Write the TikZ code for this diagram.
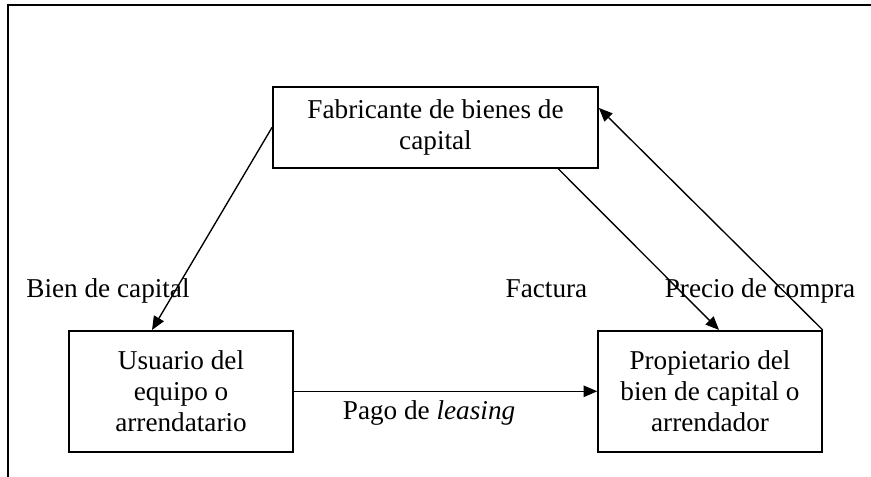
\documentclass[tikz,border=0pt]{standalone}
\usepackage{fontspec}
\setmainfont{Liberation Serif}
\usetikzlibrary{calc,arrows.meta}
\tikzset{
  box/.style={draw, line width=0.7pt, align=center, inner sep=0pt, font=\fontsize{12}{13.7}\selectfont},
  flow/.style={draw, line width=0.6pt, -{Triangle[length=6pt,width=5pt]}},
  frame/.style={draw, line width=0.9pt},
  lab/.style={anchor=base, font=\fontsize{12}{13.7}\selectfont},
}

\begin{document}
\begin{tikzpicture}
  \useasboundingbox (0,0) rectangle (13.5,7.39);

  % outer frame (left and top only)
  \draw[frame] (0.13,0) -- (0.13,7.316) -- (13.6,7.316);

  \node[box, minimum width=5.04cm, minimum height=1.256cm] (fab) at (6.75,5.417) {Fabricante de bienes de\\capital};
  \node[box, minimum width=3.47cm, minimum height=1.876cm] (usu) at (2.806,1.325) {Usuario del\\equipo o\\arrendatario};
  \node[box, minimum width=3.47cm, minimum height=1.876cm] (prop) at (11.005,1.325) {Propietario del\\bien de capital o\\arrendador};

  % flows
  \draw[flow] (fab.west) -- ($(usu.north)+(-0.45,0)$);
  \draw[flow] ($(fab.south)+(1.9,0)$) -- ($(prop.north)+(0.14,0)$);
  \draw[flow] (prop.north east) -- ($(fab.east)+(0,0.3)$);
  \draw[flow] (usu.east) -- (prop.west);

  \node[lab] (bien) at (1.674,2.775) {Bien de capital};
  \node[lab] (fact) at (8.47,2.775) {Factura};
  \node[lab] (precio) at (11.78,2.775) {Precio de compra};
  \node[lab] (pago) at (6.65,0.884) {Pago de \textit{leasing}};
\end{tikzpicture}
\end{document}
